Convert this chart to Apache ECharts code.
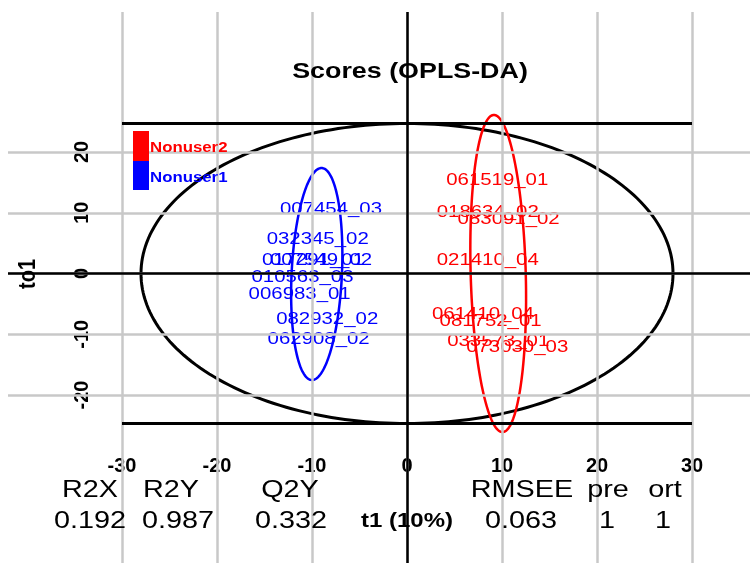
<!DOCTYPE html>
<html>
<head>
<meta charset="utf-8">
<script src="https://cdn.jsdelivr.net/npm/echarts@6/dist/echarts.min.js"></script>
<style>
  html, body { margin: 0; padding: 0; background: #ffffff; }
  #chart { width: 750px; height: 563px; }
</style>
</head>
<body>
<div id="chart"></div>
<script>
// OPLS-DA scores: predictive component t1 vs orthogonal component to1
const nonuser1Names = ['007454_03', '032345_02', '017291_01', '007549_02', '010563_03', '006983_01', '082932_02', '062908_02'];
const nonuser1T1    = [-8.0, -9.4, -9.9, -9.05, -11.0, -11.3, -8.4, -9.3];
const nonuser1To1   = [10.6, 5.7, 2.2, 2.2, -0.6, -3.5, -7.5, -10.9];

const nonuser2Names = ['061519_01', '018634_02', '083091_02', '021410_04', '061410_04', '081752_01', '033573_01', '073030_03'];
const nonuser2T1    = [9.5, 8.5, 10.7, 8.5, 8.0, 8.8, 9.6, 11.6];
const nonuser2To1   = [15.4, 10.1, 9.0, 2.1, -6.7, -7.8, -11.1, -12.1];

const groupNames = ['Nonuser2', 'Nonuser1'];

// Axis ticks
const xTicks = [-30, -20, -10, 0, 10, 20, 30];
const yTicks = [-20, -10, 0, 10, 20];

// Ellipses: [centre t1, centre to1, radius t1, radius to1, tilt of the to1 axis]
const hotellingEllipse = [0, 0, 28.0, 24.7, 0];
const ellipseNonuser1  = [-9.5, -0.08, 2.65, 17.45, 0.5];
const ellipseNonuser2  = [9.6, 0, 2.9, 26.1, -0.45];
const t2Limit = 24.7;

// Model summary
const statNames  = ['R2X', 'R2Y', 'Q2Y', 'RMSEE', 'pre', 'ort'];
const statValues = ['0.192', '0.987', '0.332', '0.063', '1', '1'];
const xAxisTitle = 't1 (10%)';
const yAxisTitle = 'to1';
const chartTitle = 'Scores (OPLS-DA)';

const RED = '#ff0000';
const BLUE = '#0000ff';
const FONT = '"Liberation Sans", Arial, sans-serif';
const STRETCH = 1.2;

const statNameX  = [90, 171, 290, 522, 608, 665];
const statValueX = [90, 178, 291, 521, 607, 663];

function ellipseRenderer(color, width) {
  return function (params, api) {
    const cx = api.value(0), cy = api.value(1);
    const rx = api.value(2), ry = api.value(3), tilt = api.value(4);
    const pts = [];
    const n = 240;
    for (let k = 0; k < n; k++) {
      const t = (k / n) * 2 * Math.PI;
      pts.push(api.coord([cx + rx * Math.cos(t) + tilt * Math.sin(t), cy + ry * Math.sin(t)]));
    }
    return {
      type: 'polygon',
      shape: { points: pts },
      style: { fill: 'none', stroke: color, lineWidth: width }
    };
  };
}

function labelRenderer(names, color) {
  return function (params, api) {
    const p = api.coord([api.value(0), api.value(1)]);
    return {
      type: 'text',
      x: p[0],
      y: p[1],
      scaleX: STRETCH,
      style: {
        text: names[params.dataIndex],
        fill: color,
        font: '17px ' + FONT,
        align: 'center', textAlign: 'center',
        verticalAlign: 'middle', textVerticalAlign: 'middle'
      }
    };
  };
}

function textEl(text, x, y, font, opts) {
  opts = opts || {};
  return {
    type: 'text',
    x: x, y: y,
    scaleX: opts.scaleX === undefined ? STRETCH : opts.scaleX,
    scaleY: opts.scaleY === undefined ? 1 : opts.scaleY,
    rotation: opts.rotation || 0,
    z: 20,
    style: {
      text: text,
      fill: opts.fill || '#000',
      font: font,
      align: opts.align || 'center', textAlign: opts.align || 'center',
      verticalAlign: 'middle', textVerticalAlign: 'middle'
    }
  };
}

const chart = echarts.init(document.getElementById('chart'), null, { renderer: 'canvas' });

const graphics = [];
graphics.push(textEl(chartTitle, 410, 72, 'bold 22px ' + FONT, { scaleX: 1.22 }));
graphics.push(textEl(yAxisTitle, 28, 274, 'bold 20px ' + FONT, { rotation: Math.PI / 2, scaleX: 1, scaleY: STRETCH }));
graphics.push(textEl(xAxisTitle, 407, 521, 'bold 20px ' + FONT));
statNames.forEach(function (s, i) { graphics.push(textEl(s, statNameX[i], 490, '24px ' + FONT)); });
statValues.forEach(function (s, i) { graphics.push(textEl(s, statValueX[i], 521, '24px ' + FONT)); });
// legend
graphics.push({ type: 'rect', shape: { x: 133, y: 131, width: 16, height: 30 }, style: { fill: RED }, z: 20 });
graphics.push({ type: 'rect', shape: { x: 133, y: 161, width: 16, height: 29 }, style: { fill: BLUE }, z: 20 });
graphics.push(textEl(groupNames[0], 150, 148, 'bold 14px ' + FONT, { align: 'left', fill: RED }));
graphics.push(textEl(groupNames[1], 150, 178, 'bold 14px ' + FONT, { align: 'left', fill: BLUE }));

const option = {
  animation: false,
  backgroundColor: '#ffffff',
  grid: [
    { left: 8, top: 12, width: 742, height: 551 },
    { left: 122, top: 446, width: 570, height: 10 },
    { left: 96, top: 152, width: 10, height: 243 }
  ],
  xAxis: [
    { type: 'value', gridIndex: 0, min: -42.0, max: 36.105, show: false },
    {
      type: 'value', gridIndex: 1, min: -30, max: 30, interval: 10,
      axisLine: { show: false }, axisTick: { show: false }, splitLine: { show: false },
      axisLabel: { show: true, margin: 0, color: '#000', fontSize: 20, fontWeight: 'bold', fontFamily: FONT, showMinLabel: true, showMaxLabel: true }
    },
    { type: 'value', gridIndex: 2, min: 0, max: 1, show: false }
  ],
  yAxis: [
    { type: 'value', gridIndex: 0, min: -47.65, max: 43.05, show: false },
    { type: 'value', gridIndex: 1, min: 0, max: 1, show: false },
    {
      type: 'value', gridIndex: 2, min: -20, max: 20, interval: 10, position: 'left',
      axisLine: { show: false }, axisTick: { show: false }, splitLine: { show: false },
      axisLabel: { show: true, rotate: 90, margin: 4, color: '#000', fontSize: 20, fontWeight: 'bold', fontFamily: FONT, showMinLabel: true, showMaxLabel: true }
    }
  ],
  graphic: graphics,
  series: [
    {
      name: 'grid lines', type: 'line', xAxisIndex: 0, yAxisIndex: 0, data: [], z: 1, silent: true,
      markLine: {
        silent: true, symbol: ['none', 'none'], label: { show: false },
        lineStyle: { color: '#c8c8c8', width: 2.5, type: 'solid' },
        emphasis: { disabled: true },
        data: xTicks.map(function (v) { return { xAxis: v }; })
          .concat(yTicks.map(function (v) { return { yAxis: v }; }))
      }
    },
    {
      name: 'reference lines', type: 'line', xAxisIndex: 0, yAxisIndex: 0, data: [], z: 2, silent: true,
      markLine: {
        silent: true, symbol: ['none', 'none'], label: { show: false },
        lineStyle: { color: '#000000', width: 2.5, type: 'solid' },
        emphasis: { disabled: true },
        data: [
          { xAxis: 0 },
          { yAxis: 0 },
          [{ coord: [xTicks[0], t2Limit], lineStyle: { width: 3 } }, { coord: [xTicks[xTicks.length - 1], t2Limit] }],
          [{ coord: [xTicks[0], -t2Limit], lineStyle: { width: 3 } }, { coord: [xTicks[xTicks.length - 1], -t2Limit] }]
        ]
      }
    },
    {
      name: 'Hotelling T2', type: 'custom', xAxisIndex: 0, yAxisIndex: 0, z: 3, silent: true,
      renderItem: ellipseRenderer('#000000', 3),
      data: [hotellingEllipse]
    },
    {
      name: 'Nonuser2 ellipse', type: 'custom', xAxisIndex: 0, yAxisIndex: 0, z: 3, silent: true,
      renderItem: ellipseRenderer(RED, 2.5),
      data: [ellipseNonuser2]
    },
    {
      name: 'Nonuser1 ellipse', type: 'custom', xAxisIndex: 0, yAxisIndex: 0, z: 3, silent: true,
      renderItem: ellipseRenderer(BLUE, 2.5),
      data: [ellipseNonuser1]
    },
    {
      name: groupNames[0], type: 'custom', xAxisIndex: 0, yAxisIndex: 0, z: 4, silent: true,
      renderItem: labelRenderer(nonuser2Names, RED),
      data: nonuser2T1.map(function (v, i) { return [v, nonuser2To1[i]]; })
    },
    {
      name: groupNames[1], type: 'custom', xAxisIndex: 0, yAxisIndex: 0, z: 4, silent: true,
      renderItem: labelRenderer(nonuser1Names, BLUE),
      data: nonuser1T1.map(function (v, i) { return [v, nonuser1To1[i]]; })
    }
  ]
};

chart.setOption(option);
</script>
</body>
</html>
